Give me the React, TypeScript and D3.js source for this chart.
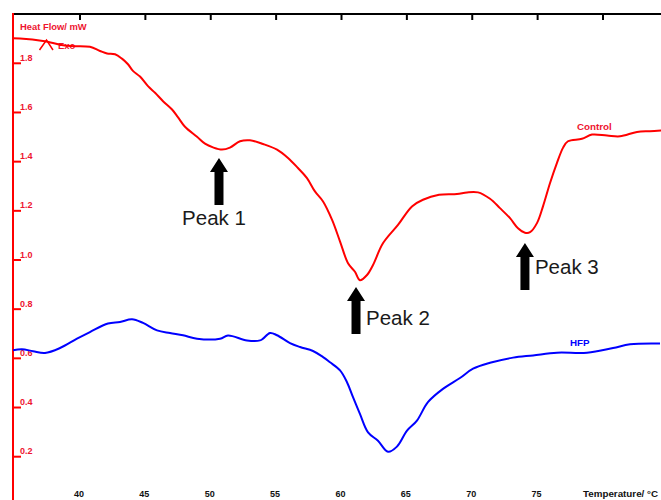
import React from "react";
import * as d3 from "d3";

// Temperature (°C) and heat flow (mW)
const controlT = [34.88, 35.41, 37.17, 39.01, 40.76, 41.53, 42.07, 42.68, 43.21, 43.67, 44.05, 44.59, 45.2, 45.74, 46.35, 47.04, 47.5, 48.03, 48.95, 49.56, 50.17, 50.86, 51.47, 52.24, 53.0, 54.0, 55.07, 55.91, 56.67, 57.36, 57.97, 58.59, 59.28, 59.89, 60.5, 61.03, 61.41, 61.95, 62.41, 63.17, 64.32, 65.39, 66.23, 67.46, 68.83, 69.6, 70.44, 71.36, 72.12, 72.89, 73.5, 74.03, 74.42, 74.95, 75.41, 75.95, 76.48, 76.94, 77.32, 78.39, 79.16, 80.31, 81.3, 82.6, 83.59, 84.44];
const controlHF = [1.902, 1.901, 1.891, 1.871, 1.867, 1.85, 1.84, 1.837, 1.819, 1.796, 1.769, 1.746, 1.707, 1.68, 1.646, 1.612, 1.58, 1.542, 1.501, 1.473, 1.458, 1.449, 1.457, 1.483, 1.487, 1.472, 1.449, 1.415, 1.374, 1.333, 1.279, 1.238, 1.163, 1.075, 0.987, 0.952, 0.918, 0.939, 0.98, 1.068, 1.143, 1.218, 1.245, 1.265, 1.268, 1.275, 1.275, 1.249, 1.211, 1.17, 1.129, 1.111, 1.113, 1.15, 1.218, 1.313, 1.395, 1.456, 1.483, 1.493, 1.51, 1.506, 1.503, 1.521, 1.524, 1.527];

const hfpT = [34.88, 35.56, 36.41, 37.32, 38.47, 39.77, 40.76, 42.14, 43.06, 43.98, 44.82, 45.89, 46.88, 47.88, 48.95, 50.71, 51.32, 52.77, 53.77, 54.0, 54.53, 55.07, 56.06, 56.83, 57.82, 58.59, 59.12, 59.89, 60.42, 60.88, 61.41, 62.03, 62.79, 63.56, 64.24, 65.01, 65.77, 66.61, 67.76, 69.06, 70.06, 71.36, 73.12, 74.65, 76.48, 78.78, 80.77, 82.07, 84.36];
const hfpHF = [0.633, 0.637, 0.629, 0.622, 0.642, 0.68, 0.707, 0.742, 0.748, 0.759, 0.744, 0.714, 0.703, 0.694, 0.68, 0.68, 0.693, 0.673, 0.673, 0.68, 0.703, 0.694, 0.662, 0.646, 0.63, 0.605, 0.584, 0.551, 0.503, 0.442, 0.374, 0.299, 0.265, 0.22, 0.241, 0.306, 0.347, 0.422, 0.476, 0.52, 0.558, 0.582, 0.603, 0.612, 0.623, 0.623, 0.642, 0.657, 0.66];

const xTicks = [40, 45, 50, 55, 60, 65, 70, 75];
const topTicks = [40, 45, 50, 55, 60, 65, 70, 75, 80];
const yTicks = [0.2, 0.4, 0.6, 0.8, 1.0, 1.2, 1.4, 1.6, 1.8];

const peakLabels = ["Peak 1", "Peak 2", "Peak 3"];
const peakT = [50.63, 61.11, 74.03];
const peakTipHF = [1.415, 0.89, 1.069];

const seriesNames = ["Control", "HFP"];

const FONT = "'Liberation Sans', Arial, sans-serif";
const RED = "#ff0000";
const RED_TXT = "#ee1530";
const BLUE = "#0000ff";

export default function App() {
  const W = 661;
  const H = 500;
  const x = d3.scaleLinear().domain([40, 80]).range([80, 603]);
  const y = d3.scaleLinear().domain([0.2, 1.8]).range([456.7, 63.3]);
  const axisX = 13;
  const topY = 14;

  const line = d3
    .line<[number, number]>()
    .x((d) => x(d[0]))
    .y((d) => y(d[1]))
    .curve(d3.curveCatmullRom.alpha(0.5));

  const controlData = controlT.map((t, i) => [t, controlHF[i]] as [number, number]);
  const hfpData = hfpT.map((t, i) => [t, hfpHF[i]] as [number, number]);

  const peakLayout = [
    { dx: -5, dy: 67, anchor: "middle" },
    { dx: 10, dy: 38, anchor: "start" },
    { dx: 10, dy: 31, anchor: "start" },
  ];

  const arrowPath = "M0,0 L9,14 L4.5,14 L4.5,47 L-4.5,47 L-4.5,14 L-9,14 Z";

  return (
    <svg
      width={W}
      height={H}
      style={{ position: "fixed", left: 0, top: 0, background: "#fff" }}
      fontFamily={FONT}
    >
      <rect x={0} y={0} width={W} height={H} fill="#fff" />
      {/* top border with ticks */}
      <line x1={axisX} x2={W} y1={topY} y2={topY} stroke="#000" strokeWidth={2} />
      {topTicks.map((t) => (
        <line key={"tt" + t} x1={x(t)} x2={x(t)} y1={topY} y2={topY + 6} stroke="#000" strokeWidth={2} />
      ))}
      {/* y axis */}
      <line x1={axisX} x2={axisX} y1={topY - 1} y2={H} stroke={RED} strokeWidth={2} />
      {yTicks.map((v) => (
        <g key={"yt" + v}>
          <line x1={axisX} x2={axisX + 8} y1={y(v)} y2={y(v)} stroke={RED} strokeWidth={2} />
          <text x={20} y={y(v) - 2.5} fontSize={9} fontWeight="bold" fill={RED_TXT}>
            {v.toFixed(1)}
          </text>
        </g>
      ))}
      <text x={20} y={29.5} fontSize={9.4} fontWeight="bold" fill={RED_TXT}>
        Heat Flow/ mW
      </text>
      {/* Exo marker */}
      <polyline points="39.5,50 46.5,40 53,50" fill="none" stroke={RED} strokeWidth={1.5} />
      <text x={58} y={48.5} fontSize={9.5} fontWeight="bold" fill={RED_TXT}>
        Exo
      </text>
      {/* x tick labels */}
      {xTicks.map((t) => (
        <text key={"xl" + t} x={x(t) - 1} y={497} fontSize={9} fontWeight="bold" fill="#111" textAnchor="middle">
          {t}
        </text>
      ))}
      <text x={583} y={497} fontSize={9} fontWeight="bold" fill="#111" textLength={75} lengthAdjust="spacingAndGlyphs">
        Temperature/ °C
      </text>
      {/* curves */}
      <path d={line(controlData) || ""} fill="none" stroke={RED} strokeWidth={2} />
      <path d={line(hfpData) || ""} fill="none" stroke={BLUE} strokeWidth={2} />
      <text x={577} y={129.5} fontSize={9.8} fontWeight="bold" fill={RED_TXT}>
        {seriesNames[0]}
      </text>
      <text x={570} y={345.5} fontSize={9.8} fontWeight="bold" fill={BLUE}>
        {seriesNames[1]}
      </text>
      {/* peak annotations */}
      {peakLabels.map((lab, i) => {
        const px = x(peakT[i]);
        const py = y(peakTipHF[i]);
        const L = peakLayout[i];
        return (
          <g key={lab}>
            <path d={arrowPath} transform={`translate(${px},${py})`} fill="#000" />
            <text x={px + L.dx} y={py + L.dy} fontSize={20.5} fill="#1a1a1a" textAnchor={L.anchor as any}>
              {lab}
            </text>
          </g>
        );
      })}
    </svg>
  );
}
